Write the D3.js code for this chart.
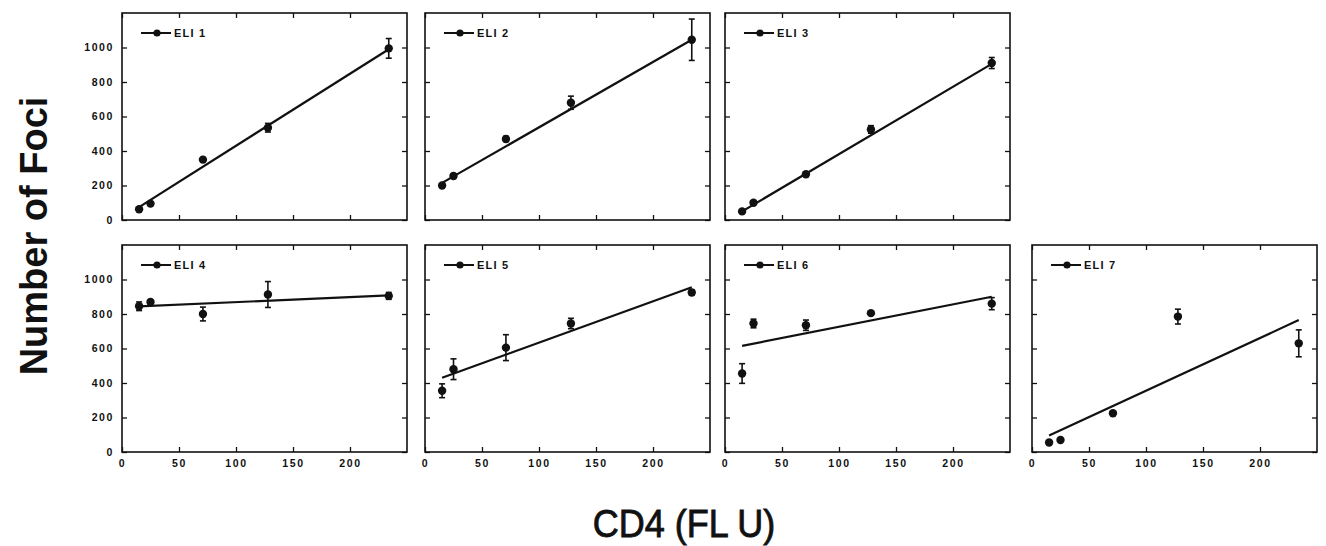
<!DOCTYPE html>
<html>
<head>
<meta charset="utf-8">
<script src="https://cdn.jsdelivr.net/npm/d3@7"></script>
<style>
  body { margin: 0; background: #fff; }
  svg text { font-family: "Liberation Sans", Arial, sans-serif; fill: #111; }
  .tick text { font-size: 10.5px; font-weight: bold; letter-spacing: 1.6px; }
  .tick line { stroke: #111; stroke-width: 1.3; }
</style>
</head>
<body>
<div id="vis"></div>
<script>
// data
const panelNames = ["ELI 1", "ELI 2", "ELI 3", "ELI 4", "ELI 5", "ELI 6", "ELI 7"];
const cd4 = [15, 25, 71, 128, 234];

const fociMeans = [
  [62, 95, 350, 535, 995],
  [200, 255, 470, 680, 1045],
  [50, 100, 265, 525, 910],
  [845, 870, 800, 913, 905],
  [355, 480, 605, 745, 925],
  [455, 745, 735, 805, 860],
  [55, 70, 225, 785, 630]
];
const fociErrors = [
  [8, 10, 12, 25, 57],
  [10, 12, 15, 38, 120],
  [5, 8, 10, 22, 32],
  [25, 10, 40, 75, 20],
  [40, 60, 75, 30, 15],
  [57, 25, 30, 8, 35],
  [5, 5, 8, 43, 78]
];
// fitted line: value at the first and the last CD4 point
const fitStart = [75, 215, 50, 844, 430, 615, 95];
const fitEnd = [990, 1045, 905, 908, 955, 900, 765];

const xDomain = [0, 250];
const yDomain = [0, 1200];
const xTickMarks = [0, 50, 100, 150, 200];
const xTickLabels = [0, 50, 100, 150, 200];
const yTickMarks = [0, 200, 400, 600, 800, 1000];

// layout
const W = 1326, H = 546;
const cols = [122, 425, 725, 1032];
const rows = [13, 245];
const pw = 285, ph = 207;
const ink = "#111";

const svg = d3.select("#vis").append("svg")
  .attr("width", W)
  .attr("height", H);

const x = d3.scaleLinear().domain(xDomain).range([0, pw]);
const y = d3.scaleLinear().domain(yDomain).range([ph, 0]);

panelNames.forEach((name, i) => {
  const row = i < 3 ? 0 : 1;
  const col = i < 3 ? i : i - 3;
  const g = svg.append("g")
    .attr("transform", `translate(${cols[col]},${rows[row]})`);

  // inward ticks on all four sides
  g.append("g")
    .attr("transform", `translate(0,${ph})`)
    .call(d3.axisBottom(x).tickValues(xTickMarks).tickSizeInner(-5).tickSizeOuter(0).tickPadding(8)
      .tickFormat(d => row === 1 && xTickLabels.includes(d) ? d : ""));
  g.append("g")
    .call(d3.axisTop(x).tickValues(xTickMarks).tickSizeInner(-5).tickSizeOuter(0).tickFormat(""));
  g.append("g")
    .call(d3.axisLeft(y).tickValues(yTickMarks).tickSizeInner(-5).tickSizeOuter(0).tickPadding(8)
      .tickFormat(d => col === 0 ? d : ""));
  g.append("g")
    .attr("transform", `translate(${pw},0)`)
    .call(d3.axisRight(y).tickValues(yTickMarks).tickSizeInner(-5).tickSizeOuter(0).tickFormat(""));
  g.selectAll(".domain").remove();

  g.append("rect")
    .attr("width", pw)
    .attr("height", ph)
    .attr("fill", "none")
    .attr("stroke", ink)
    .attr("stroke-width", 1.6);

  // regression line
  g.append("line")
    .attr("x1", x(cd4[0]))
    .attr("y1", y(fitStart[i]))
    .attr("x2", x(cd4[cd4.length - 1]))
    .attr("y2", y(fitEnd[i]))
    .attr("stroke", ink)
    .attr("stroke-width", 2.2);

  const pts = cd4.map((c, j) => ({c, m: fociMeans[i][j], e: fociErrors[i][j]}));

  // error bars
  const eb = g.selectAll(".err").data(pts).join("g").attr("class", "err")
    .attr("stroke", ink).attr("stroke-width", 1.6);
  eb.append("line")
    .attr("x1", d => x(d.c)).attr("x2", d => x(d.c))
    .attr("y1", d => y(d.m - d.e)).attr("y2", d => y(d.m + d.e));
  eb.append("line")
    .attr("x1", d => x(d.c) - 3).attr("x2", d => x(d.c) + 3)
    .attr("y1", d => y(d.m + d.e)).attr("y2", d => y(d.m + d.e));
  eb.append("line")
    .attr("x1", d => x(d.c) - 3).attr("x2", d => x(d.c) + 3)
    .attr("y1", d => y(d.m - d.e)).attr("y2", d => y(d.m - d.e));

  g.selectAll(".dot").data(pts).join("circle").attr("class", "dot")
    .attr("cx", d => x(d.c))
    .attr("cy", d => y(d.m))
    .attr("r", 4.2)
    .attr("fill", ink);

  // legend
  const lg = g.append("g").attr("transform", "translate(19,20)");
  lg.append("line").attr("x1", 0).attr("x2", 30).attr("y1", 0).attr("y2", 0)
    .attr("stroke", ink).attr("stroke-width", 2);
  lg.append("circle").attr("cx", 16).attr("cy", 0).attr("r", 3.6).attr("fill", ink);
  lg.append("text").attr("x", 33).attr("y", 4)
    .style("font-size", "11px")
    .style("font-weight", "bold")
    .style("letter-spacing", "1.2px")
    .text(name);
});

// axis titles
svg.append("text")
  .attr("transform", "translate(47,236) rotate(-90)")
  .attr("text-anchor", "middle")
  .style("font-size", "38px")
  .style("font-weight", "bold")
  .text("Number of Foci");

svg.append("text")
  .attr("transform", "translate(684,537) scale(1,1.1)")
  .attr("text-anchor", "middle")
  .style("font-size", "36px")
  .attr("stroke", ink)
  .attr("stroke-width", 0.8)
  .text("CD4 (FL U)");
</script>
</body>
</html>
